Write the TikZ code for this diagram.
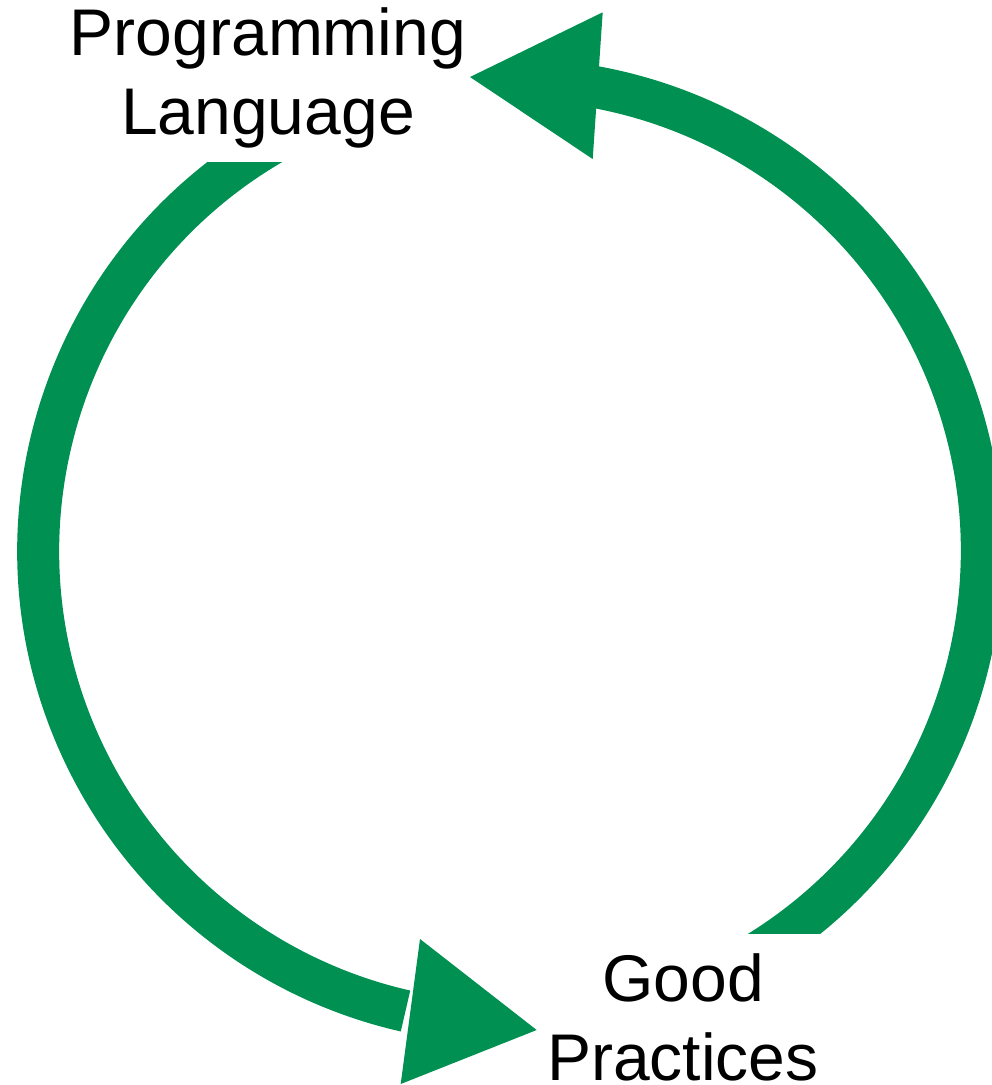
\documentclass[tikz,border=0pt]{standalone}
\usepackage{fontspec}
\setmainfont{Liberation Sans}
\definecolor{cyclegreen}{RGB}{0,144,81}
\tikzset{
  band/.style={draw=cyclegreen, line width=42pt},
  headfill/.style={fill=cyclegreen, draw=none},
  label/.style={align=center, inner sep=0pt, text=black, font=\fontsize{66}{79}\selectfont}
}
\begin{document}
\begin{tikzpicture}[x=1pt,y=1pt]
\useasboundingbox (0,0) rectangle (992,-1085);
\coordinate (c) at (510,-551);
% labels
\node[label] (lang) at (268,-77.5) {Programming\\Language};
\node[label] (prac) at (683,-1017) {Good\\Practices};
% right arc: Good Practices -> Programming Language
\begin{scope}
  \clip (-10,-933) rectangle (1100,20);
  \draw[band] (c) ++(-62:471.75) arc[start angle=-62, end angle=79.8, radius=471.75];
\end{scope}
\fill[headfill] (602.7,-12.3) -- (470,-77) -- (592.7,-159) -- cycle;
% left arc: Programming Language -> Good Practices
\begin{scope}
  \clip (-10,-162.7) rectangle (1100,-1100);
  \draw[band] (c) ++(118:471.75) arc[start angle=118, end angle=257.2, radius=471.75];
\end{scope}
\fill[headfill] (420,-939) -- (536.7,-1030) -- (400.7,-1084) -- cycle;
\end{tikzpicture}
\end{document}
